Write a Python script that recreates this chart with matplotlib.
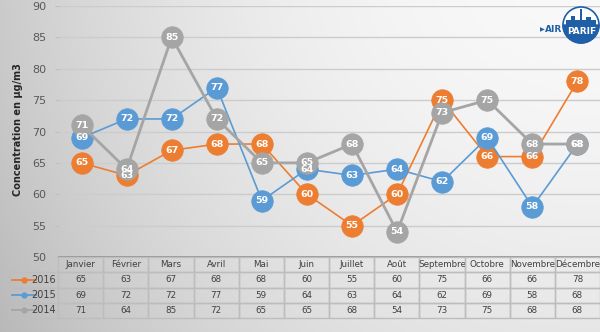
import numpy as np
import matplotlib
matplotlib.use("Agg")
import matplotlib.pyplot as plt
from matplotlib.patches import Circle, Wedge, Rectangle
from matplotlib.lines import Line2D

months = ["Janvier", "Février", "Mars", "Avril", "Mai", "Juin", "Juillet",
          "Août", "Septembre", "Octobre", "Novembre", "Décembre"]
years = ["2016", "2015", "2014"]
v2016 = [65, 63, 67, 68, 68, 60, 55, 60, 75, 66, 66, 78]
v2015 = [69, 72, 72, 77, 59, 64, 63, 64, 62, 69, 58, 68]
v2014 = [71, 64, 85, 72, 65, 65, 68, 54, 73, 75, 68, 68]
series = [v2016, v2015, v2014]
colors = ["#ED7D31", "#5B9BD5", "#A5A5A5"]
yticks = [50, 55, 60, 65, 70, 75, 80, 85, 90]
ylabel = "Concentration en µg/m3"

W, H = 600, 332
fig = plt.figure(figsize=(W / 100, H / 100), dpi=100)

# background gradient
bg = fig.add_axes([0, 0, 1, 1], zorder=-10)
xx, yy = np.meshgrid(np.linspace(0, 1, 300), np.linspace(0, 1, 166))
val = 0.975 - 0.18 * (1 - xx) ** 2.2 - 0.07 * yy ** 1.5
bg.imshow(np.dstack([val, val, val]), extent=[0, 1, 0, 1], aspect="auto", origin="upper")
bg.axis("off")

# main axes
ax = fig.add_axes([59 / W, 1 - 257 / H, 541 / W, (257 - 6) / H])
ax.set_facecolor("none")
x = np.arange(len(months))
for i, (vals, c) in enumerate(zip(series, colors)):
    lw = 2.0 if i == 2 else 1.2
    ax.plot(x, vals, color=c, lw=lw, zorder=3 + i, marker="o", markersize=15.5,
            markerfacecolor=c, markeredgecolor=c, markeredgewidth=0.5)
for i, (vals, c) in enumerate(zip(series, colors)):
    for xi, v in zip(x, vals):
        ax.text(xi, v, str(v), ha="center", va="center", color="white",
                fontsize=6.8, fontweight="bold", zorder=10)
ax.set_xlim(-0.5, len(months) - 0.5)
ax.set_ylim(50, 90)
ax.set_yticks(yticks)
ax.set_yticklabels([str(t) for t in yticks], fontsize=8, color="#595959")
ax.tick_params(axis="y", length=3, color="#bfbfbf", pad=6)
ax.set_xticks([])
for yt in yticks[1:]:
    ax.axhline(yt, color="#cccccc", lw=1, zorder=1)
for s in ["top", "right", "left"]:
    ax.spines[s].set_visible(False)
ax.spines["bottom"].set_color("#8c8c8c")
ax.spines["bottom"].set_linewidth(1.2)
fig.text(18 / W, 1 - 130 / H, ylabel, rotation=90, ha="center", va="center",
         fontsize=7, fontweight="bold", color="#262626")

# table
tab_ax = fig.add_axes([9 / W, 1 - 318 / H, 591 / W, 61 / H])
tab_ax.axis("off")
cell_text = [[""] + [str(v) for v in vals] for vals in series]
col_labels = [""] + months
colw = [49] + [45.1] * 12
colw = [c / sum(colw) for c in colw]
tbl = tab_ax.table(cellText=cell_text, colLabels=col_labels, colWidths=colw,
                   bbox=[0, 0, 1, 1], cellLoc="center")
tbl.auto_set_font_size(False)
for (r, c), cell in tbl.get_celld().items():
    cell.set_edgecolor("#bdbdbd")
    cell.set_facecolor("none")
    cell.set_linewidth(1.0)
    cell.get_text().set_fontsize(6.3)
    cell.get_text().set_color("#404040")
    if r == 0 and c == 0:
        cell.set_edgecolor("none")
# legend keys + year labels in first column
lab_w = colw[0]
for i, (yr, c) in enumerate(zip(years, colors)):
    yc = 1 - (i + 1.5) / 4
    tab_ax.add_line(Line2D([0.005, 0.045], [yc, yc], color=c, lw=1.3,
                           transform=tab_ax.transAxes))
    tab_ax.plot([0.025], [yc], marker="o", color=c, markersize=3.5,
                transform=tab_ax.transAxes, clip_on=False)
    tab_ax.text(lab_w - 0.004, yc, yr, ha="right", va="center", fontsize=7,
                color="#404040", transform=tab_ax.transAxes)

# logo
lg = fig.add_axes([0, 0, 1, 1], zorder=20)
lg.set_xlim(0, W)
lg.set_ylim(H, 0)
lg.axis("off")
blue = "#1F5FA8"
lg.add_patch(Circle((581, 25), 18, facecolor="white", edgecolor=blue, lw=1.2))
lg.add_patch(Wedge((581, 25), 18, 0, 180, facecolor=blue, edgecolor=blue))
lg.add_patch(Rectangle((566, 20), 30, 5, facecolor=blue, edgecolor="none"))
lg.add_patch(Rectangle((571, 16), 4, 5, facecolor=blue, edgecolor="none"))
lg.add_patch(Rectangle((586, 17), 5, 4, facecolor=blue, edgecolor="none"))
lg.add_patch(Rectangle((579.5, 9), 2, 12, facecolor=blue, edgecolor="none"))
lg.text(582, 31, "PARIF", ha="center", va="center", color="white",
        fontsize=6.5, fontweight="bold")
lg.text(562, 30, "AIR", ha="right", va="center", color=blue, fontsize=6.5,
        fontweight="bold")
lg.text(545, 30, "▶", ha="right", va="center", color=blue, fontsize=4.5)

fig.savefig("out.png", dpi=100)
